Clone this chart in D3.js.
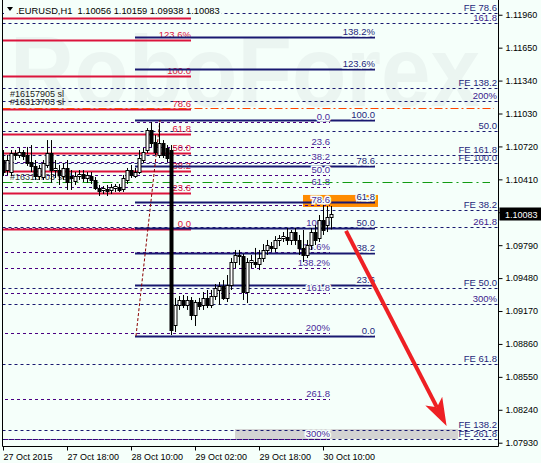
<!DOCTYPE html>
<html><head><meta charset="utf-8">
<script src="https://cdn.jsdelivr.net/npm/d3@7"></script>
<style>
body{margin:0;background:#f5fffa;}
svg{display:block;font-family:"Liberation Sans",Arial,sans-serif;}
</style>
</head><body>
<svg id="c" width="541" height="463"></svg>
<script>
// ---------------- DATA ----------------
const titleText = ".EURUSD,H1  1.10056 1.10159 1.09938 1.10083";
const lastPrice = 1.10083;
const priceTicks = [1.07930,1.08240,1.08550,1.08860,1.09170,1.09480,1.09790,1.10100,1.10410,1.10720,1.11030,1.11340,1.11650,1.11960];
const timeTickBars = [0,16,32,48,64,80];
const timeTickLabels = ["27 Oct 2015","27 Oct 18:00","28 Oct 10:00","29 Oct 02:00","29 Oct 18:00","30 Oct 10:00"];

// H1 candles, bar 0 = 27 Oct 02:00
const opens  = [1.10592,1.10498,1.10479,1.10658,1.10639,1.10667,1.10639,1.10573,1.10536,1.10441,1.10432,1.10545,1.10658,1.10498,1.10498,1.10441,1.10517,1.10441,1.10394,1.10441,1.10460,1.10423,1.10441,1.10404,1.10329,1.10310,1.10319,1.10310,1.10329,1.10338,1.10319,1.10404,1.10498,1.10441,1.10479,1.10592,1.10686,1.10875,1.10762,1.10639,1.10752,1.10705,1.10686,1.09038,1.09227,1.09274,1.09227,1.09274,1.09133,1.09255,1.09227,1.09293,1.09227,1.09311,1.09368,1.09405,1.09293,1.09415,1.09632,1.09698,1.09688,1.09349,1.09632,1.09632,1.09613,1.09669,1.09745,1.09782,1.09764,1.09839,1.09858,1.09867,1.09839,1.09914,1.09839,1.09764,1.09698,1.09792,1.09914,1.09858,1.10027,1.09980,1.10056];
const highs  = [1.10686,1.10639,1.10686,1.10686,1.10705,1.10686,1.10715,1.10733,1.10592,1.10545,1.10592,1.10780,1.10780,1.10592,1.10545,1.10564,1.10592,1.10498,1.10479,1.10498,1.10498,1.10479,1.10479,1.10432,1.10357,1.10347,1.10357,1.10366,1.10366,1.10366,1.10451,1.10517,1.10545,1.10517,1.10686,1.10705,1.10893,1.10950,1.10828,1.10941,1.10780,1.10733,1.10733,1.09293,1.09311,1.09321,1.09311,1.09302,1.09274,1.09293,1.09349,1.09368,1.09368,1.09424,1.09443,1.09462,1.09509,1.09669,1.09745,1.09745,1.09707,1.09669,1.09698,1.09764,1.09745,1.09801,1.09839,1.09820,1.09876,1.09886,1.09914,1.09952,1.09933,1.09952,1.09886,1.09933,1.09839,1.09952,1.09980,1.10074,1.10168,1.10159,1.10159];
const lows   = [1.10441,1.10451,1.10441,1.10592,1.10611,1.10592,1.10536,1.10479,1.10404,1.10404,1.10404,1.10517,1.10376,1.10423,1.10357,1.10404,1.10310,1.10310,1.10357,1.10404,1.10385,1.10376,1.10366,1.10310,1.10253,1.10272,1.10253,1.10272,1.10291,1.10291,1.10291,1.10366,1.10423,1.10423,1.10460,1.10564,1.10658,1.10715,1.10639,1.10611,1.10611,1.10573,1.08944,1.08972,1.09180,1.09198,1.09180,1.09085,1.09029,1.09180,1.09180,1.09198,1.09198,1.09274,1.09227,1.09274,1.09255,1.09368,1.09575,1.09603,1.09274,1.09245,1.09575,1.09575,1.09556,1.09632,1.09698,1.09726,1.09726,1.09782,1.09820,1.09792,1.09792,1.09792,1.09698,1.09632,1.09669,1.09745,1.09792,1.09820,1.09886,1.09914,1.09938];
const closes = [1.10479,1.10592,1.10658,1.10639,1.10667,1.10630,1.10564,1.10536,1.10441,1.10517,1.10564,1.10658,1.10498,1.10517,1.10451,1.10517,1.10385,1.10423,1.10441,1.10460,1.10423,1.10451,1.10404,1.10329,1.10300,1.10329,1.10300,1.10338,1.10347,1.10310,1.10423,1.10498,1.10451,1.10479,1.10611,1.10667,1.10875,1.10752,1.10667,1.10752,1.10639,1.10611,1.08991,1.09227,1.09274,1.09227,1.09274,1.09133,1.09255,1.09217,1.09293,1.09227,1.09311,1.09387,1.09405,1.09293,1.09415,1.09632,1.09698,1.09688,1.09349,1.09632,1.09650,1.09613,1.09669,1.09745,1.09792,1.09764,1.09839,1.09858,1.09876,1.09839,1.09914,1.09839,1.09764,1.09698,1.09792,1.09914,1.09839,1.10027,1.09933,1.10055,1.10083];

// Fibonacci retracement (red, left)
const redFibLevels = [0,23.6,38.2,50,61.8,78.6,100,123.6,138.2];
const redFibLabels = ["0.0","23.6","38.2","50.0","61.8","78.6","100.0","123.6%","138.2%"];
const redFibBars = [-1,47];
const redFibPrices = [1.09942,1.11383];   // 0% , 100%

// Fibonacci retracement A (solid navy)
const fibALevels = [0,23.6,38.2,50,61.8,78.6,100,123.6,138.2];
const fibALabels = ["0.0","23.6","38.2","50.0","61.8","78.6","100.0","123.6%","138.2%"];
const fibABars = [33,93];
const fibAPrices = [1.08935,1.10969];
const fibAnchorBars = [33.25,39.25];

// Fibonacci retracement B (dashed indigo)
const fibBLevels = [0,23.6,38.2,50,61.8,78.6,100,123.6,138.2,161.8,200,261.8,300];
const fibBLabels = ["0.0","23.6","38.2","50.0","61.8","78.6","100.0","123.6%","138.2%","161.8","200%","261.8","300%"];
const fibBBars = [-1,81.75];
const fibBPrices = [1.10951,1.09956];

// Fibonacci C (dashed navy, labels on right)
const fibCLevels = [161.8,200,261.8,300];
const fibCLabels = ["161.8","200%","261.8","300%"];
const fibCPrices = [1.14978,1.13063];

// Fibonacci expansion levels (dashed navy, labels on right)
const feLabels = ["FE 78.6","FE 138.2","50.0","FE 161.8","FE 100.0","FE 38.2","FE 50.0","FE 61.8","FE 138.2","FE 261.8"];
const fePrices = [1.11972,1.11270,1.10868,1.10639,1.10567,1.10121,1.09390,1.08668,1.08050,1.07965];

// orders
const slPrice = 1.11085;
const slLabels = ["#16157905 sl","#16313703 sl"];
const openPrice = 1.10388;
const openLabel = "#16313703 sell";

// zones
const orangeZone = {bars:[75,93.75], prices:[1.10263,1.10150]};
const grayZone = {bars:[58,113.75], prices:[1.08059,1.07965]};

// forecast arrow
const arrowBars = [85.75,110.9];
const arrowPrices = [1.09924,1.08087];

// ---------------- DRAW ----------------
const W = 541, H = 463;
const plot = {l:2.5, r:498.5, t:0, b:446.5};
const svg = d3.select("#c");
const x = d3.scaleLinear().domain([0,80]).range([3,323]);
const y = d3.scaleLinear().domain([1.07899,1.12080]).range([446,2]);

const C = {bg:"#f5fffa", red:"#dc143c", navy:"#191970", indigo:"#3c1a8c", navyTxt:"#1f1f7a"};

svg.append("rect").attr("width",W).attr("height",H).attr("fill",C.bg);
svg.append("defs").append("clipPath").attr("id","pc").append("rect")
  .attr("x",plot.l).attr("y",plot.t).attr("width",plot.r-plot.l).attr("height",plot.b-plot.t);
const g = svg.append("g").attr("clip-path","url(#pc)");

// watermark
g.append("text").attr("x",10).attr("y",106).text("RoboForex")
  .attr("font-size",100).attr("font-weight","bold").attr("fill","#ebf5f1")
  .attr("textLength",470).attr("lengthAdjust","spacingAndGlyphs");

// zones
[[grayZone,"#d3d3d3"],[orangeZone,"#ff8c00"]].forEach(([z,c])=>{
  g.append("rect").attr("x",x(z.bars[0])).attr("width",x(z.bars[1])-x(z.bars[0]))
   .attr("y",y(z.prices[0])).attr("height",y(z.prices[1])-y(z.prices[0])).attr("fill",c);
});

const lvl = (prices,l)=> prices[0] + (prices[1]-prices[0])*l/100;
const hline = (p,x1,x2,color,dash,w)=> g.append("line")
  .attr("x1",x1).attr("x2",x2).attr("y1",Math.round(y(p))+0.5).attr("y2",Math.round(y(p))+0.5)
  .attr("stroke",color).attr("stroke-width",w||1).attr("stroke-dasharray",dash||null);
const label = (txt,xr,p,color,halo)=> {
  const t = g.append("text").attr("x",xr).attr("y",Math.round(y(p))-2).attr("text-anchor","end")
   .attr("font-size",9.5).attr("fill",color).text(txt);
  if(halo) t.attr("stroke",C.bg).attr("stroke-width",3).attr("paint-order","stroke");
};

// fib C + FE (full width, right labels)
fibCLevels.forEach((l,i)=>{ const p=lvl(fibCPrices,l); hline(p,plot.l,plot.r,C.navy,"3,3"); label(fibCLabels[i],497,p,C.indigo); });
fePrices.forEach((p,i)=>{ hline(p,plot.l,plot.r,C.navy,"3,3"); label(feLabels[i],497,p,C.navyTxt); });

// fib B
fibBLevels.forEach((l,i)=>{ const p=lvl(fibBPrices,l); hline(p,x(fibBBars[0]),x(fibBBars[1]),"#4b0082","3,3"); });
// red fib
redFibLevels.forEach((l,i)=>{ const p=lvl(redFibPrices,l); hline(p,x(redFibBars[0]),x(redFibBars[1]),C.red,null,2); label(redFibLabels[i],x(redFibBars[1]),p,C.red); });
// fib A
fibALevels.forEach((l,i)=>{ const p=lvl(fibAPrices,l); hline(p,x(fibABars[0]),x(fibABars[1]),C.navy,null,2); label(fibALabels[i],x(fibABars[1]),p,C.navyTxt,true); });
fibBLevels.forEach((l,i)=>{ const p=lvl(fibBPrices,l); label(fibBLabels[i],x(fibBBars[1]),p,"#4b2a9a",true); });

// order lines
hline(slPrice,plot.l,494,"#ff4500","8,3,2,3");
slLabels.forEach((t,i)=> g.append("text").attr("x",10).attr("y",Math.round(y(slPrice))-3-i*8)
  .attr("font-size",9).attr("fill","#222").text(slLabels[slLabels.length-1-i]));
hline(openPrice,plot.l,490,"#129c12","10,4,2,4");
g.append("text").attr("x",10).attr("y",Math.round(y(openPrice))-2).attr("font-size",9).attr("fill","#333").text(openLabel);

// anchor diagonal
g.append("line").attr("x1",x(fibAnchorBars[0])).attr("y1",y(fibAPrices[0]))
 .attr("x2",x(fibAnchorBars[1])).attr("y2",y(fibAPrices[1]))
 .attr("stroke","#8b0000").attr("stroke-dasharray","3,2").attr("stroke-width",1);

// candles
const bars = d3.range(opens.length);
const cg = g.append("g");
bars.forEach(i=>{
  const cx = Math.round(x(i))+0.5;
  const o=opens[i], c=closes[i], h=highs[i], l=lows[i];
  cg.append("line").attr("x1",cx).attr("x2",cx).attr("y1",y(h)).attr("y2",y(l)).attr("stroke","#000");
  const top = Math.round(y(Math.max(o,c))), bot = Math.round(y(Math.min(o,c)));
  cg.append("rect").attr("x",cx-1.5).attr("y",top+0.5).attr("width",3).attr("height",Math.max(bot-top,0.01))
    .attr("fill", c>=o ? "#ffffff" : "#000000").attr("stroke","#000").attr("stroke-width",1);
});

// arrow
{
  const x1=x(arrowBars[0]), y1=y(arrowPrices[0]), x2=x(arrowBars[1]), y2=y(arrowPrices[1]);
  const L=Math.hypot(x2-x1,y2-y1), ux=(x2-x1)/L, uy=(y2-y1)/L, nx=-uy, ny=ux;
  const hl=28, hw=9.5, notch=21;
  g.append("line").attr("x1",x1).attr("y1",y1).attr("x2",x2-ux*notch).attr("y2",y2-uy*notch)
    .attr("stroke","#ee2024").attr("stroke-width",4);
  const pts=[[x2,y2],[x2-ux*hl+nx*hw,y2-uy*hl+ny*hw],[x2-ux*notch,y2-uy*notch],[x2-ux*hl-nx*hw,y2-uy*hl-ny*hw]];
  g.append("path").attr("d","M"+pts.map(p=>p.join(",")).join("L")+"Z").attr("fill","#ee2024");
}

// title
const tt = svg.append("g");
const tb = tt.append("rect").attr("fill",C.bg);
tt.append("path").attr("d","M7,7 L13,7 L10,11 Z").attr("fill","#000");
const tx = tt.append("text").attr("x",16).attr("y",14).attr("font-size",9.3).attr("fill","#000")
  .attr("xml:space","preserve").style("white-space","pre").text(titleText);
const bb = tx.node().getBBox();
tb.attr("x",4).attr("y",3).attr("width",bb.x+bb.width-2).attr("height",13);

// axes frame
svg.append("line").attr("x1",plot.l).attr("x2",plot.l).attr("y1",0).attr("y2",plot.b).attr("stroke","#000");
svg.append("line").attr("x1",plot.r).attr("x2",plot.r).attr("y1",0).attr("y2",plot.b).attr("stroke","#000");
svg.append("line").attr("x1",plot.l).attr("x2",plot.r).attr("y1",plot.b).attr("y2",plot.b).attr("stroke","#000");

// right price axis
const ra = svg.append("g").attr("transform",`translate(${plot.r},0)`)
  .call(d3.axisRight(y).tickValues(priceTicks).tickFormat(d3.format(".5f")).tickSize(4).tickPadding(3));
ra.select(".domain").remove();
ra.selectAll("text").attr("font-size",9).attr("fill","#000").attr("font-family","Liberation Sans, Arial");
ra.selectAll("line").attr("stroke","#000");

// current price box
svg.append("rect").attr("x",plot.r+1).attr("y",Math.round(y(lastPrice))-6.5).attr("width",W-plot.r).attr("height",13).attr("fill","#000");
svg.append("text").attr("x",505).attr("y",Math.round(y(lastPrice))+3.5).attr("font-size",9).attr("fill","#fff").text(d3.format(".5f")(lastPrice));

// bottom time axis
const ba = svg.append("g").attr("transform",`translate(0,${plot.b})`)
  .call(d3.axisBottom(x).tickValues(timeTickBars).tickFormat((d,i)=>timeTickLabels[i]).tickSize(4).tickPadding(3));
ba.select(".domain").remove();
ba.selectAll("text").attr("text-anchor","start").attr("font-size",9).attr("fill","#000").attr("font-family","Liberation Sans, Arial");
ba.selectAll("line").attr("stroke","#000");
</script>
</body></html>
